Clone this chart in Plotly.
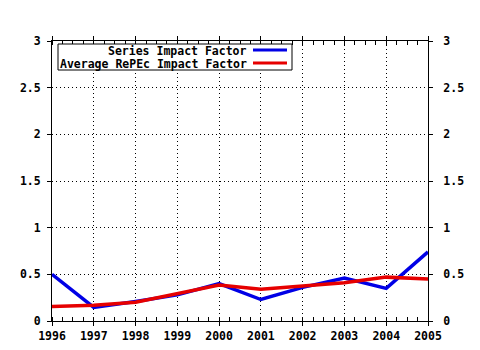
import plotly.graph_objects as go

years = [1996, 1997, 1998, 1999, 2000, 2001, 2002, 2003, 2004, 2005]
series_if = [0.50, 0.145, 0.21, 0.28, 0.40, 0.23, 0.36, 0.46, 0.35, 0.74]
repec_if = [0.155, 0.168, 0.20, 0.293, 0.386, 0.34, 0.375, 0.41, 0.47, 0.45]
series_names = ["Series Impact Factor", "Average RePEc Impact Factor"]
colors = ["#0000e6", "#e60000"]

FONT = dict(family="DejaVu Sans Mono", size=11.5, color="black", weight="bold")

fig = go.Figure()
fig.add_trace(go.Scatter(x=years, y=series_if, mode="lines", name=series_names[0],
                         line=dict(color=colors[0], width=3.5), showlegend=False))
fig.add_trace(go.Scatter(x=years, y=repec_if, mode="lines", name=series_names[1],
                         line=dict(color=colors[1], width=3.5), showlegend=False))
# empty helper trace so the right-hand axis is drawn
fig.add_trace(go.Scatter(x=[None], y=[None], yaxis="y2", showlegend=False,
                         hoverinfo="skip"))

L, R, T, B = 52, 52, 41, 29
W, H = 480, 350
pw, ph = W - L - R, H - T - B

def px(x):
    return (x - L) / pw

def py(y):
    return (H - B - y) / ph

# legend box
fig.add_shape(type="rect", xref="paper", yref="paper",
              x0=px(58), x1=px(292), y0=py(70), y1=py(44),
              line=dict(color="black", width=1), fillcolor="white", layer="above")
for i, (name, col, yy) in enumerate(zip(series_names, colors, [51, 64])):
    fig.add_annotation(xref="paper", yref="paper", x=px(248), y=py(yy),
                       text=name, showarrow=False, xanchor="right", yanchor="middle",
                       font=FONT, borderpad=0)
    fig.add_shape(type="line", xref="paper", yref="paper",
                  x0=px(253), x1=px(287), y0=py(yy - 1), y1=py(yy - 1),
                  line=dict(color=col, width=3), layer="above")

GRIDDASH = "1px,3px"

fig.update_layout(
    width=W, height=H,
    margin=dict(l=L, r=R, t=T, b=B, autoexpand=False),
    paper_bgcolor="white", plot_bgcolor="white",
    font=FONT,
    xaxis=dict(range=[1996, 2005], tickmode="array", tickvals=years,
               ticktext=[str(y) for y in years], automargin=False,
               showgrid=True, gridcolor="black", griddash=GRIDDASH, gridwidth=1,
               showline=True, linecolor="black", linewidth=1, mirror="allticks",
               ticks="outside", ticklen=4, tickcolor="black",
               minor=dict(dtick=0.25, tick0=1996, ticks="inside", ticklen=2,
                          tickcolor="black", showgrid=False),
               zeroline=False, tickfont=FONT),
    yaxis=dict(range=[0, 3], dtick=0.5, tick0=0, automargin=False,
               showgrid=True, gridcolor="black", griddash=GRIDDASH, gridwidth=1,
               showline=True, linecolor="black", linewidth=1, mirror=True,
               ticks="outside", ticklen=4, tickcolor="black",
               zeroline=False, tickfont=FONT, ticklabelstandoff=4),
    yaxis2=dict(range=[0, 3], dtick=0.5, tick0=0, overlaying="y", side="right",
                automargin=False,
                showgrid=False, showline=True, linecolor="black", linewidth=1,
                ticks="outside", ticklen=4, tickcolor="black",
                zeroline=False, tickfont=FONT, ticklabelstandoff=8),
)
fig.write_html("out.html")
